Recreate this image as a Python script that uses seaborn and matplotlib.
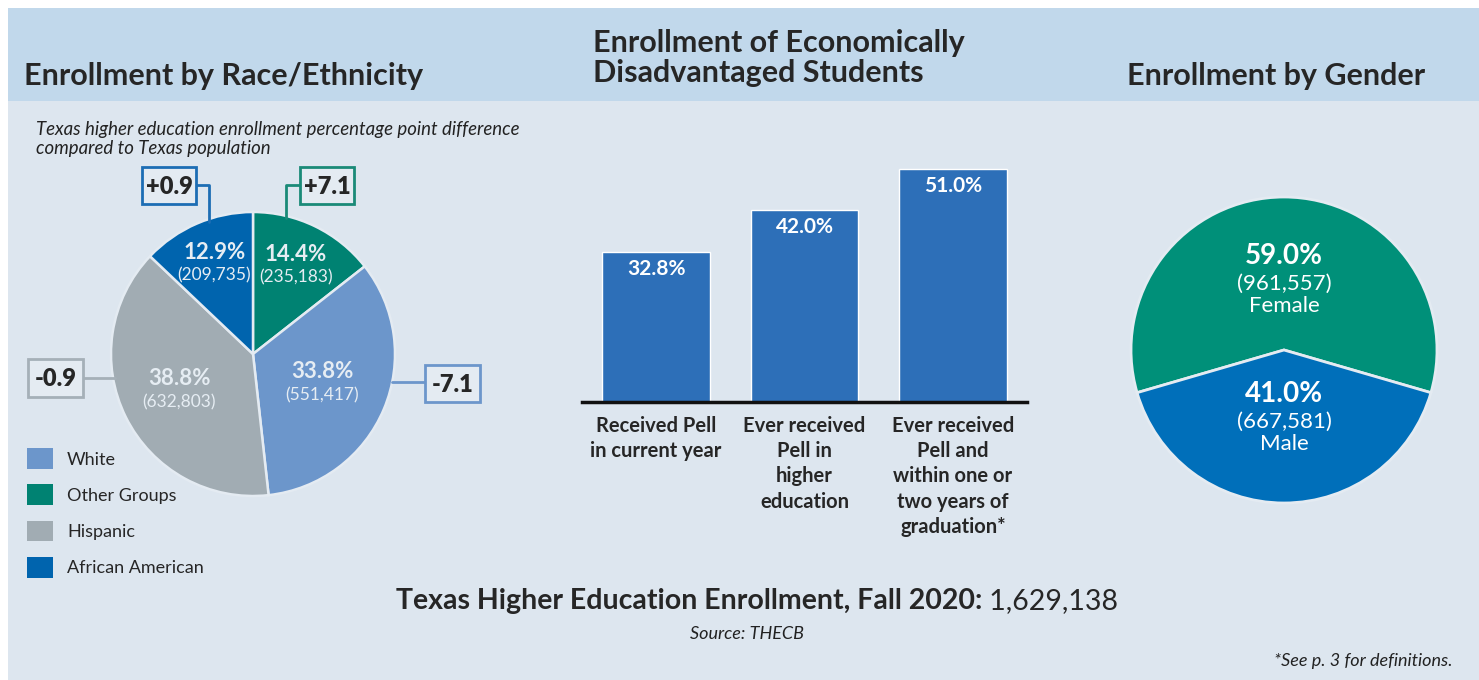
import numpy as np
import seaborn as sns
import matplotlib.pyplot as plt
from matplotlib.patches import Rectangle, Patch
from matplotlib.lines import Line2D

# ---- data ----
race_labels = ["Other Groups", "White", "Hispanic", "African American"]
race_pct = [14.4, 33.8, 38.8, 12.9]
race_counts = ["(235,183)", "(551,417)", "(632,803)", "(209,735)"]
race_diff = ["+7.1", "-7.1", "-0.9", "+0.9"]
race_colors = ["#008272", "#6c96cb", "#a1acb3", "#0064ae"]
legend_order = ["White", "Other Groups", "Hispanic", "African American"]

pell_cats = ["Received Pell\nin current year",
             "Ever received\nPell in\nhigher\neducation",
             "Ever received\nPell and\nwithin one or\ntwo years of\ngraduation*"]
pell_pct = [32.8, 42.0, 51.0]

gender_labels = ["Female", "Male"]
gender_pct = [59.0, 41.0]
gender_counts = ["(961,557)", "(667,581)"]
gender_colors = ["#009079", "#006fba"]

total_enrollment = "1,629,138"

W, H = 1479, 680
BG = "#dde6ef"
BAND = "#c1d8eb"

sns.set_theme(style="white")
plt.rcParams["font.family"] = ["Lato", "DejaVu Sans"]


def P(x, y):
    return (x / W, 1 - y / H)


def box(x0, y0, x1, y1):
    return [x0 / W, 1 - y1 / H, (x1 - x0) / W, (y1 - y0) / H]


fig = plt.figure(figsize=(W / 100, H / 100), dpi=100)
fig.patch.set_facecolor("white")
fig.add_artist(Rectangle(P(8, H), (W - 8) / W, (H - 8) / H, transform=fig.transFigure,
                         facecolor=BG, edgecolor="none", zorder=0))
fig.add_artist(Rectangle(P(8, 101), (W - 8) / W, 93 / H, transform=fig.transFigure,
                         facecolor=BAND, edgecolor="none", zorder=0))

# titles
fig.text(*P(24, 76), "Enrollment by Race/Ethnicity", fontsize=22, fontweight="bold",
         va="center", ha="left")
fig.text(*P(593, 58), "Enrollment of Economically\nDisadvantaged Students", fontsize=22,
         fontweight="bold", va="center", ha="left", linespacing=1.05)
fig.text(*P(1127, 76), "Enrollment by Gender", fontsize=22, fontweight="bold",
         va="center", ha="left")
fig.text(*P(36, 139), "Texas higher education enrollment percentage point difference\ncompared to Texas population",
         fontsize=13.4, style="italic", va="center", ha="left", color="#222222", linespacing=1.15)

# ---- race pie ----
cx, cy, r = 253, 354, 142
ax1 = fig.add_axes(box(cx - r, cy - r, cx + r, cy + r))
wedges, _ = ax1.pie(race_pct, colors=race_colors, startangle=90, counterclock=False,
                    wedgeprops=dict(edgecolor="#e4ebf2", linewidth=1.8))
ax1.set_xlim(-1, 1)
ax1.set_ylim(-1, 1)
ax1.axis("off")
label_r = [0.69, 0.53, 0.58, 0.69]
for w, pct, cnt, lr in zip(wedges, race_pct, race_counts, label_r):
    mid = np.deg2rad((w.theta1 + w.theta2) / 2)
    xy = (lr * np.cos(mid), lr * np.sin(mid))
    ax1.annotate(f"{pct:.1f}%", xy, xytext=(0, 8.5), textcoords="offset points",
                 ha="center", va="center", fontsize=16, fontweight="bold", color="#e6edf3")
    ax1.annotate(cnt, xy, xytext=(0, -8.5), textcoords="offset points",
                 ha="center", va="center", fontsize=12.5, color="#e6edf3")

# callout boxes with connectors: text, box (x0,y0,x1,y1), connector points, colour
callouts = [
    ("+0.9", (142, 167, 196, 204), [(196, 185), (209, 185), (209, 222)], "#1c6db4"),
    ("+7.1", (300, 167, 354, 204), [(300, 185), (286, 185), (286, 218)], "#1a8a78"),
    ("-0.9", (28, 359, 83, 397), [(83, 378), (115, 378)], "#a5b0b8"),
    ("-7.1", (425, 365, 480, 402), [(425, 382), (392, 382)], "#6c96cb"),
]
for txt, (x0, y0, x1, y1), pts, col in callouts:
    fig.add_artist(Rectangle(P(x0, y1), (x1 - x0) / W, (y1 - y0) / H, transform=fig.transFigure,
                             facecolor="#e4ebf2", edgecolor=col, linewidth=2, zorder=5))
    xs = [p[0] / W for p in pts]
    ys = [1 - p[1] / H for p in pts]
    fig.add_artist(Line2D(xs, ys, transform=fig.transFigure, color=col, linewidth=2, zorder=4))
    fig.text(*P((x0 + x1) / 2, (y0 + y1) / 2 + 1), txt, fontsize=17, fontweight="heavy",
             ha="center", va="center", zorder=6)

# legend
handles = [Patch(facecolor=race_colors[race_labels.index(n)], edgecolor="none") for n in legend_order]
fig.legend(handles, legend_order, loc="upper left", bbox_to_anchor=P(20, 441), frameon=False,
           fontsize=13, handlelength=1.4, handleheight=1.4, labelspacing=0.85,
           handletextpad=0.8, borderaxespad=0)

# ---- bar chart ----
ax2 = fig.add_axes(box(582, 151, 1027, 402))
sns.barplot(x=list(range(len(pell_pct))), y=pell_pct, color="#2d6fb8", saturation=1,
            width=0.725, ax=ax2)
ax2.set_xlim(-0.5, 2.5)
ax2.set_ylim(0, 251 / 4.57)
ax2.patch.set_visible(False)
for s in ["top", "left", "right"]:
    ax2.spines[s].set_visible(False)
ax2.spines["bottom"].set_linewidth(2.5)
ax2.spines["bottom"].set_color("#111111")
ax2.set_yticks([])
ax2.set_xticks(range(len(pell_cats)))
ax2.set_xticklabels(pell_cats, fontsize=14.5, fontweight="bold", va="top", linespacing=1.33)
ax2.tick_params(axis="x", length=0, pad=10)
for i, v in enumerate(pell_pct):
    ax2.annotate(f"{v:.1f}%", (i, v), xytext=(0, -12), textcoords="offset points",
                 ha="center", va="center", fontsize=15, fontweight="bold", color="white")

# ---- gender pie ----
gx, gy, gr = 1284, 350, 153
ax3 = fig.add_axes(box(gx - gr, gy - gr, gx + gr, gy + gr))
gw, _ = ax3.pie(gender_pct, colors=gender_colors, startangle=90 - gender_pct[0] * 1.8,
                counterclock=True, wedgeprops=dict(edgecolor="#e4ebf2", linewidth=2))
ax3.set_xlim(-1, 1)
ax3.set_ylim(-1, 1)
ax3.axis("off")
for w, pct, cnt, name, lr in zip(gw, gender_pct, gender_counts, gender_labels, [0.43, 0.47]):
    mid = np.deg2rad((w.theta1 + w.theta2) / 2)
    xy = (lr * np.cos(mid), lr * np.sin(mid))
    ax3.annotate(f"{pct:.1f}%", xy, xytext=(0, 20), textcoords="offset points",
                 ha="center", va="center", fontsize=20, fontweight="bold", color="white")
    ax3.annotate(cnt, xy, xytext=(0, 0), textcoords="offset points",
                 ha="center", va="center", fontsize=16, color="white")
    ax3.annotate(name, xy, xytext=(0, -16), textcoords="offset points",
                 ha="center", va="center", fontsize=16, color="white")

# ---- footer ----
t1 = fig.text(*P(396, 601), "Texas Higher Education Enrollment, Fall 2020:", fontsize=20.5,
              fontweight="bold", ha="left", va="center")
ax2.annotate(" " + total_enrollment, xy=(1, 0.5), xycoords=t1, ha="left", va="center",
             fontsize=20.5, annotation_clip=False)
fig.text(*P(747, 634), "Source: THECB", fontsize=13, style="italic", ha="center", va="center",
         color="#222222")
fig.text(*P(1453, 661), "*See p. 3 for definitions.", fontsize=13, style="italic", ha="right",
         va="center", color="#222222")

fig.savefig("out.png", dpi=100, facecolor=fig.get_facecolor())
